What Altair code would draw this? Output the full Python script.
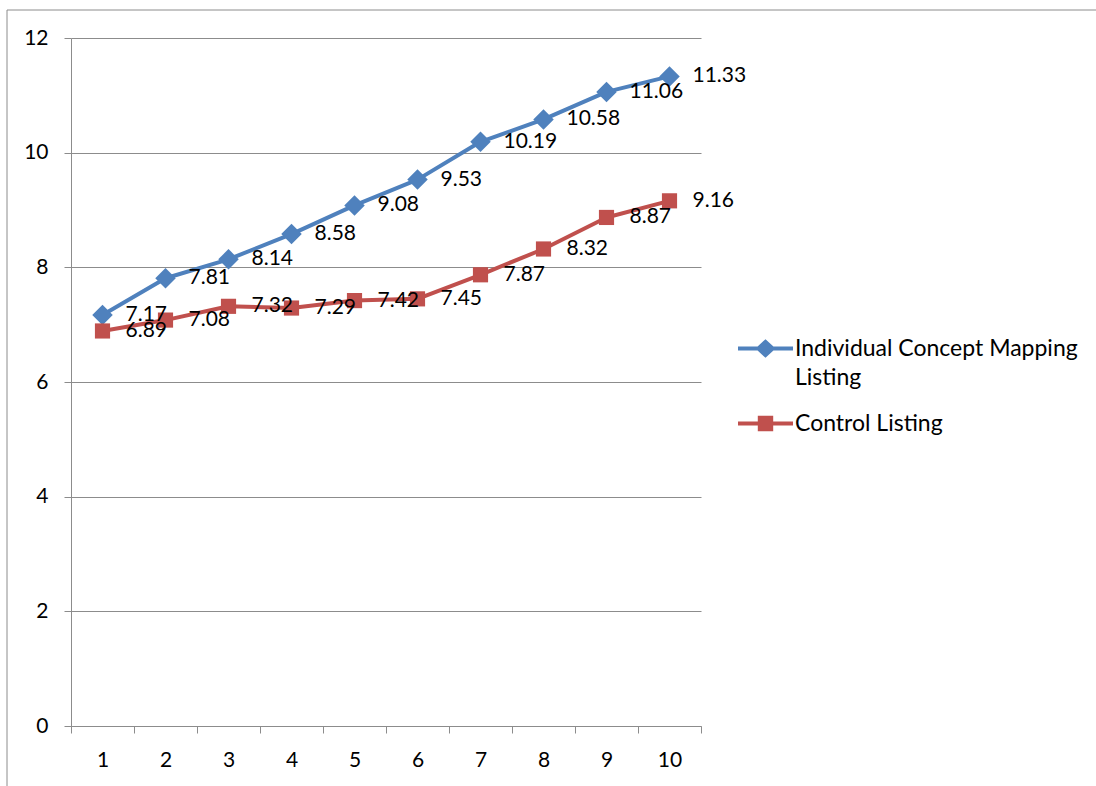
import altair as alt
import pandas as pd

# Values per session for each group
sessions = [1, 2, 3, 4, 5, 6, 7, 8, 9, 10]
concept_mapping = [7.17, 7.81, 8.14, 8.58, 9.08, 9.53, 10.19, 10.58, 11.06, 11.33]
control = [6.89, 7.08, 7.32, 7.29, 7.42, 7.45, 7.87, 8.32, 8.87, 9.16]

series_names = ["Individual Concept Mapping Listing", "Control Listing"]
series_colors = ["#4F81BD", "#C0504D"]

rows = []
for name, values in zip(series_names, [concept_mapping, control]):
    for s, v in zip(sessions, values):
        rows.append({"session": s, "value": v, "series": name})
df = pd.DataFrame(rows)

FONT = "Lato"
GRID = "#8c8c8c"
LABEL_SIZE = 21

# Legend glyphs: a short line with the series marker in the middle
# (unit square path, scaled by sqrt(size)/2)
t = 0.075
d, h = 0.37, 0.34
e = t * d / h
diamond_glyph = (
    f"M-1,{-t} L{-d+e},{-t} L0,{-h} L{d-e},{-t} L1,{-t} "
    f"L1,{t} L{d-e},{t} L0,{h} L{-d+e},{t} L-1,{t} Z"
)
q = 0.28
square_glyph = (
    f"M-1,{-t} L{-q},{-t} L{-q},{-q} L{q},{-q} L{q},{-t} L1,{-t} "
    f"L1,{t} L{q},{t} L{q},{q} L{-q},{q} L{-q},{t} L-1,{t} Z"
)

x_enc = alt.X(
    "session:O",
    title=None,
    scale=alt.Scale(paddingInner=0, paddingOuter=0),
    axis=alt.Axis(
        labelAngle=0,
        tickBand="extent",
        tickSize=7,
        tickColor=GRID,
        domainColor=GRID,
        labelPadding=16,
        labelFontSize=LABEL_SIZE,
        labelFont=FONT,
        labelColor="#000000",
        grid=False,
    ),
)
y_enc = alt.Y(
    "value:Q",
    title=None,
    scale=alt.Scale(domain=[0, 12], nice=False),
    axis=alt.Axis(
        values=[0, 2, 4, 6, 8, 10, 12],
        format="d",
        tickSize=7,
        tickColor=GRID,
        domainColor=GRID,
        gridColor=GRID,
        gridOpacity=1,
        labelPadding=16,
        labelFontSize=LABEL_SIZE,
        labelFont=FONT,
        labelColor="#000000",
    ),
)
color_scale = alt.Scale(domain=series_names, range=series_colors)

legend_spec = alt.Legend(
    title=None,
    orient="none",
    legendX=667,
    legendY=283,
    symbolSize=3025,
    symbolStrokeWidth=0,
    symbolOpacity=1,
    labelFont=FONT,
    labelFontSize=23,
    labelColor="#000000",
    labelOffset=2,
    labelLimit=400,
    rowPadding=6,
    padding=0,
    labelExpr=(
        "datum.label == 'Individual Concept Mapping Listing' ? "
        "['Individual Concept Mapping', 'Listing'] : datum.label"
    ),
)

base = alt.Chart(df)


def series_line(name, colour):
    return (
        base.transform_filter(alt.datum.series == name)
        .mark_line(strokeWidth=4, strokeJoin="round", color=colour)
        .encode(x=x_enc, y=y_enc)
    )


lines_top = series_line(series_names[0], series_colors[0])
lines_bottom = series_line(series_names[1], series_colors[1])

# Invisible layer that carries the legend with line-and-marker glyphs
legend_layer = base.mark_point(filled=True, opacity=0).encode(
    x="session:O",
    y="value:Q",
    color=alt.Color("series:N", scale=color_scale, legend=legend_spec),
    shape=alt.Shape(
        "series:N",
        scale=alt.Scale(domain=series_names, range=[diamond_glyph, square_glyph]),
        legend=legend_spec,
    ),
)

diamonds = (
    base.transform_filter(alt.datum.series == series_names[0])
    .mark_point(filled=True, opacity=1, shape="diamond", size=420, color=series_colors[0])
    .encode(x="session:O", y="value:Q")
)
squares = (
    base.transform_filter(alt.datum.series == series_names[1])
    .mark_point(filled=True, opacity=1, shape="square", size=230, color=series_colors[1])
    .encode(x="session:O", y="value:Q")
)

labels = base.mark_text(
    align="left", baseline="middle", dx=23, fontSize=LABEL_SIZE, font=FONT, color="#000000"
).encode(
    x="session:O",
    y="value:Q",
    text=alt.Text("value:Q", format=".2f"),
)

frame_df = pd.DataFrame({"k": [0]})
frame_top = alt.Chart(frame_df).mark_rule(color=GRID, strokeWidth=1).encode(
    x=alt.value(-64), x2=alt.value(1040), y=alt.value(-28)
)
frame_left = alt.Chart(frame_df).mark_rule(color=GRID, strokeWidth=1).encode(
    x=alt.value(-64), y=alt.value(-28), y2=alt.value(760)
)

chart = (
    alt.layer(
        frame_top, frame_left, lines_top, lines_bottom, legend_layer, diamonds, squares, labels
    )
    .properties(
        width=630,
        height=688,
        autosize=alt.AutoSizeParams(type="none"),
        padding={"left": 71, "top": 38, "right": 395, "bottom": 60},
        background="#ffffff",
    )
    .configure(style={"guide-label": {"lineHeight": 29}})
    .configure_view(strokeWidth=0)
)

chart.save("out.html", embed_options={"renderer": "svg", "actions": False})
